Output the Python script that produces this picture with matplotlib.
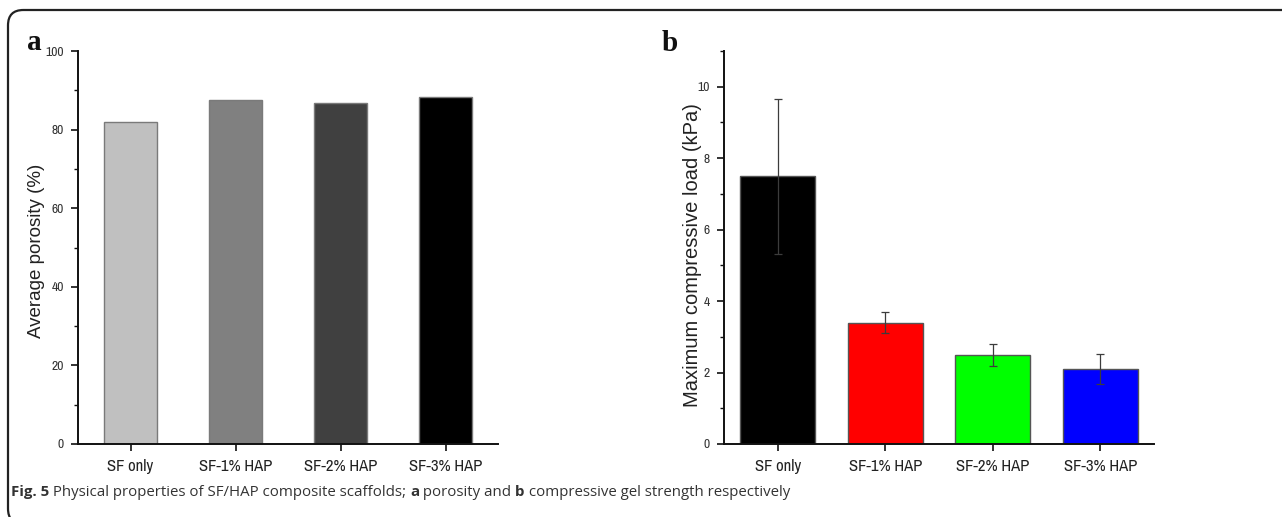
import matplotlib
matplotlib.use("Agg")
import matplotlib.pyplot as plt
from matplotlib import font_manager
from matplotlib.patches import FancyBboxPatch
from matplotlib.ticker import MultipleLocator

categories = ["SF only", "SF-1% HAP", "SF-2% HAP", "SF-3% HAP"]
porosity = [82.0, 87.6, 86.7, 88.4]
load = [7.5, 3.4, 2.5, 2.1]
load_err = [2.17, 0.3, 0.31, 0.43]
colors_a = ["#c0c0c0", "#808080", "#404040", "#000000"]
colors_b = ["#000000", "#ff0000", "#00ff00", "#0000ff"]

# look for a narrow sans font; otherwise fall back to Liberation Sans
narrow = None
for f in font_manager.fontManager.ttflist:
    if f.name == "Liberation Sans Narrow":
        narrow = f.name
        break
if narrow is None:
    for f in font_manager.fontManager.ttflist:
        if ("Narrow" in f.name or "Condensed" in f.name) and "Mono" not in f.name \
                and "Serif" not in f.name:
            narrow = f.name
            break
if narrow is None:
    narrow = "Liberation Sans"
    xfs, yfs = 10.2, 8.5
else:
    xfs, yfs = 12.0, 9.8

W, H = 1282, 517
fig = plt.figure(figsize=(W / 100, H / 100), dpi=100)

def fx(px):
    return px / W

def fy(py):
    return 1 - py / H

# frame (rounded, open to the right and bottom)
frame = FancyBboxPatch((fx(8), fy(524)), fx(1400), fy(10) - fy(524),
                       boxstyle="round,pad=0,rounding_size=0.012",
                       transform=fig.transFigure, fill=False, lw=1.6,
                       ec="#222222", clip_on=False, mutation_aspect=W / H)
fig.patches.append(frame)

tick_color = "#333333"

def style(ax):
    for s in ["top", "right"]:
        ax.spines[s].set_visible(False)
    for s in ["left", "bottom"]:
        ax.spines[s].set_linewidth(1.4)
        ax.spines[s].set_color("#111111")
    ax.tick_params(axis="both", which="major", direction="out", length=5, width=1.2,
                   color="#111111")
    ax.tick_params(axis="y", which="minor", direction="out", length=3, width=1.0,
                   color="#111111")
    ax.tick_params(axis="y", labelsize=yfs, labelcolor=tick_color, pad=5)
    ax.tick_params(axis="x", labelsize=xfs, labelcolor="#222222", pad=6)
    for lab in ax.get_xticklabels() + ax.get_yticklabels():
        lab.set_family(narrow)

# panel a
axa = fig.add_axes([fx(78), fy(444), fx(498 - 78), fy(51) - fy(444)])
x = list(range(len(categories)))
axa.bar(x, porosity, width=0.5, color=colors_a, edgecolor="#7a7a7a", linewidth=1.0)
axa.set_xlim(-0.5, 3.5)
axa.set_ylim(0, 100)
axa.yaxis.set_major_locator(MultipleLocator(20))
axa.yaxis.set_minor_locator(MultipleLocator(10))
axa.set_xticks(x)
axa.set_xticklabels(categories)
style(axa)
fig.text(fx(37), fy(251), "Average porosity (%)", rotation=90, fontsize=13.5,
         family="Liberation Sans", color="#222222", ha="center", va="center")

# panel b
axb = fig.add_axes([fx(724), fy(444), fx(1154 - 724), fy(51) - fy(444)])
axb.bar(x, load, width=0.7, color=colors_b, edgecolor="#555555", linewidth=1.0)
axb.errorbar(x, load, yerr=load_err, fmt="none", ecolor="#3c3c3c", elinewidth=0.9,
             capsize=3, capthick=0.9, zorder=5)
axb.set_xlim(-0.5, 3.5)
axb.set_ylim(0, 11)
axb.yaxis.set_major_locator(MultipleLocator(2))
axb.yaxis.set_minor_locator(MultipleLocator(1))
axb.set_xticks(x)
axb.set_xticklabels(categories)
style(axb)
fig.text(fx(693), fy(255), "Maximum compressive load (kPa)", rotation=90, fontsize=14.5,
         family="Liberation Sans", color="#222222", ha="center", va="center")

# panel letters
fig.text(fx(27), fy(50), "a", fontsize=21, fontweight="bold", family="Liberation Serif",
         va="baseline", ha="left", color="#111111")
fig.text(fx(662), fy(51), "b", fontsize=21, fontweight="bold", family="Liberation Serif",
         va="baseline", ha="left", color="#111111")

# caption with mixed weights
parts = [("Fig. 5", "bold"), (" Physical properties of SF/HAP composite scaffolds; ", "normal"),
         ("a", "bold"), (" porosity and ", "normal"), ("b", "bold"),
         (" compressive gel strength respectively", "normal")]
fig.canvas.draw()
r = fig.canvas.get_renderer()
xpos = 11
for txt, wt in parts:
    t = fig.text(fx(xpos), fy(496), txt, fontsize=10.85, fontweight=wt, family="Open Sans",
                 color="#333333", va="baseline", ha="left")
    bb = t.get_window_extent(renderer=r)
    xpos += bb.width

fig.savefig("out.png", dpi=100)
